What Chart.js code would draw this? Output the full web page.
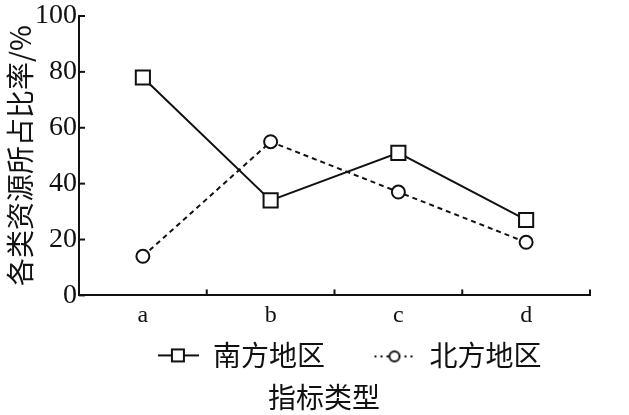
<!DOCTYPE html>
<html>
<head>
  <meta charset="utf-8">
  <title>各类资源所占比率</title>
  <script src="https://cdn.jsdelivr.net/npm/chart.js"></script>
  <style>
    html, body { margin: 0; padding: 0; background: #fff; }
    #wrap { width: 629px; height: 415px; }
  </style>
</head>
<body>
  <div id="wrap"><canvas id="resChart" width="629" height="415"></canvas></div>
  <script>
    // data
    const categories = ['a', 'b', 'c', 'd'];
    const southValues = [78, 34, 51, 27];
    const northValues = [14, 55, 37, 19];
    const yTicks = [0, 20, 40, 60, 80, 100];

    const ink = '#111';
    const serif = 'Liberation Serif';
    const cjk = 'Noto Sans CJK SC';

    // little legend glyphs: line + marker
    const legendIcon = (kind) => {
      const c = document.createElement('canvas');
      c.width = 42;
      c.height = 16;
      const g = c.getContext('2d');
      g.strokeStyle = ink;
      g.lineWidth = 2;
      if (kind === 'rect') {
        g.beginPath();
        g.moveTo(1, 8); g.lineTo(42, 8);
        g.stroke();
        g.fillStyle = '#fff';
        g.fillRect(15, 2, 12, 12);
        g.strokeRect(15, 2, 12, 12);
      } else {
        g.setLineDash([2, 4]);
        g.beginPath();
        g.moveTo(1, 9); g.lineTo(42, 9);
        g.stroke();
        g.setLineDash([]);
        g.fillStyle = '#fff';
        g.beginPath();
        g.arc(21, 9, 5, 0, Math.PI * 2);
        g.fill();
        g.stroke();
      }
      return c;
    };

    // inward tick marks, placed through the scales
    const innerTicks = {
      id: 'innerTicks',
      afterDraw(chart) {
        const { ctx, chartArea, scales } = chart;
        ctx.save();
        ctx.strokeStyle = ink;
        ctx.lineWidth = 2;
        yTicks.forEach(v => {
          const y = scales.y.getPixelForValue(v);
          ctx.beginPath();
          ctx.moveTo(chartArea.left, y);
          ctx.lineTo(chartArea.left + 6, y);
          ctx.stroke();
        });
        for (let i = 0; i < categories.length; i++) {
          const x = scales.x.getPixelForValue(i + 0.5);
          ctx.beginPath();
          ctx.moveTo(x, chartArea.bottom);
          ctx.lineTo(x, chartArea.bottom - 6);
          ctx.stroke();
        }
        ctx.restore();
      }
    };

    const ctx = document.getElementById('resChart').getContext('2d');
    const myChart = new Chart(ctx, {
      type: 'line',
      data: {
        labels: categories,
        datasets: [{
          label: '南方地区',
          data: southValues,
          borderColor: ink,
          borderWidth: 2,
          pointStyle: 'rect',
          pointRadius: 10,
          pointBorderWidth: 2,
          pointBackgroundColor: '#fff',
          pointBorderColor: ink,
          tension: 0
        }, {
          label: '北方地区',
          data: northValues,
          borderColor: ink,
          borderWidth: 2,
          borderDash: [5, 4],
          pointStyle: 'circle',
          pointRadius: 6.5,
          pointBorderWidth: 2,
          pointBackgroundColor: '#fff',
          pointBorderColor: ink,
          tension: 0
        }]
      },
      options: {
        responsive: false,
        animation: false,
        layout: { padding: { top: 1, right: 0, left: 19, bottom: 0 } },
        plugins: {
          tooltip: { enabled: false },
          legend: {
            position: 'bottom',
            fullSize: false,
            align: 'end',
            labels: {
              usePointStyle: true,
              pointStyleWidth: 42,
              padding: 8,
              color: ink,
              font: { family: cjk, size: 28 },
              generateLabels: (chart) => chart.data.datasets.map((ds, i) => ({
                text: ds.label + '\u3000  ',
                pointStyle: legendIcon(i === 0 ? 'rect' : 'circle'),
                fillStyle: '#fff',
                strokeStyle: ink,
                lineWidth: 0,
                fontColor: ink,
                datasetIndex: i
              }))
            }
          },
          title: {
            display: true,
            position: 'bottom',
            text: '指标类型',
            color: ink,
            font: { family: cjk, size: 28, weight: 'normal' },
            padding: { top: 1, bottom: 1 }
          }
        },
        scales: {
          x: {
            offset: true,
            afterFit: (scale) => { scale.height = 38; },
            grid: { display: true, drawOnChartArea: false, drawTicks: false },
            border: { display: true, color: ink, width: 2 },
            ticks: {
              color: ink,
              padding: 6,
              font: { family: serif, size: 24 }
            }
          },
          y: {
            min: 0,
            max: 100,
            afterFit: (scale) => { scale.width = 60; },
            afterBuildTicks: (scale) => { scale.ticks = yTicks.map(v => ({ value: v })); },
            grid: { display: true, drawOnChartArea: false, drawTicks: false },
            border: { display: true, color: ink, width: 2 },
            ticks: {
              color: ink,
              padding: 2,
              font: { family: serif, size: 28, lineHeight: 1 }
            },
            title: {
              display: true,
              text: '各类资源所占比率/%',
              color: ink,
              padding: { top: -15, bottom: 0 },
              font: { family: cjk, size: 28 }
            }
          },
          // empty right-hand margin so the plot ends where the reference's does
          yRight: {
            position: 'right',
            min: 0,
            max: 100,
            afterFit: (scale) => { scale.width = 39; },
            grid: { display: false },
            border: { display: false },
            ticks: { display: false }
          }
        }
      },
      plugins: [innerTicks]
    });
  </script>
</body>
</html>
